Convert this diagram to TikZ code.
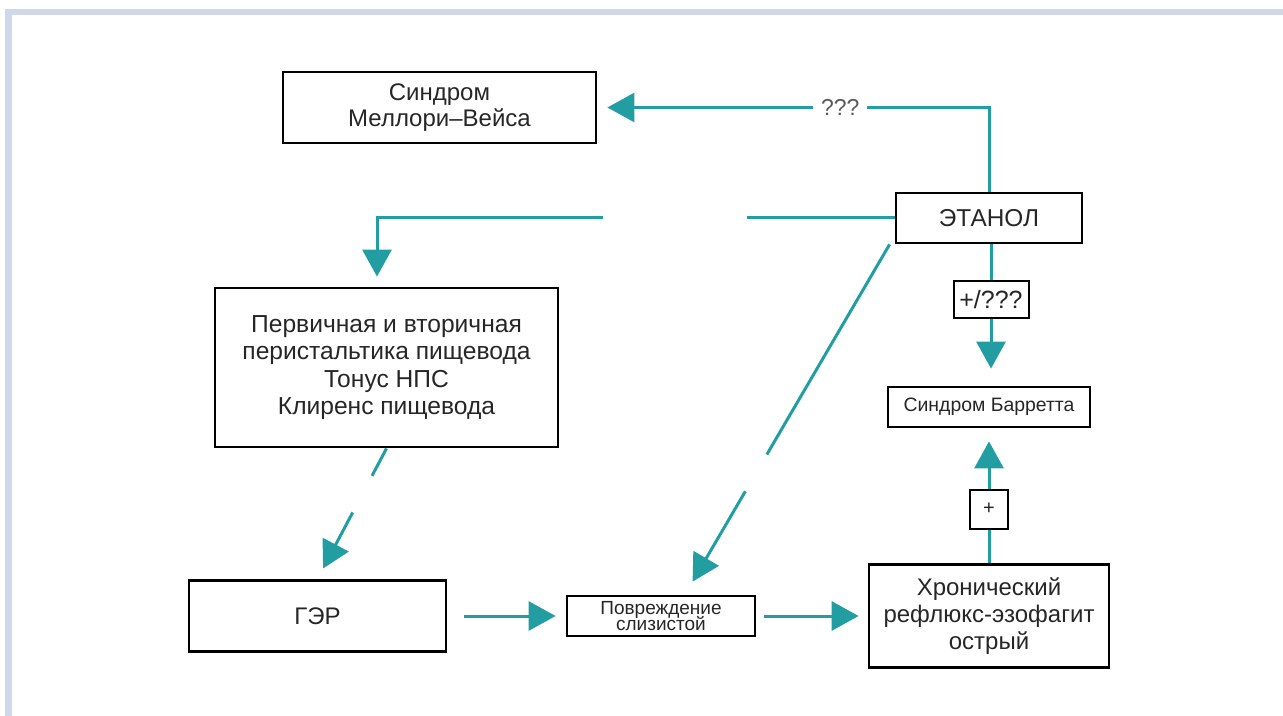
\documentclass[tikz,border=0pt]{standalone}
\usepackage{fontspec}
\setmainfont{Liberation Sans}
\usepackage{tikz}
\usetikzlibrary{arrows.meta, calc}
\definecolor{linkteal}{RGB}{34,158,163}
\definecolor{framebg}{RGB}{207,216,234}
\definecolor{labelgray}{RGB}{90,90,90}

\begin{document}
\begin{tikzpicture}[x=0.5pt, y=-0.5pt, font=\fontsize{12}{13}\selectfont,
  box/.style={draw=black, line width=1.4pt, inner sep=0pt, align=center,
              text=black!85},
  tag/.style={draw=black, line width=1pt, fill=white, inner sep=0pt,
              text=black!85},
  link/.style={draw=linkteal, line width=1.5pt},
  arr/.style={link, -{Triangle[length=13.5pt, width=14.5pt]}}]
  \useasboundingbox (0,0) rectangle (1283,716);
  % frame
  \fill[framebg] (5,9) rectangle (1283,15);
  \fill[framebg] (5,9) rectangle (12,716);

  \node[box, minimum width=156.5pt, minimum height=35.5pt]
    (mw) at (439.5,107.5) {Синдром\\Меллори–Вейса};
  \node[box, minimum width=93pt, minimum height=25pt, font=\fontsize{12.2}{13}\selectfont]
    (etanol) at (989,218) {ЭТАНОЛ};
  \node[box, minimum width=171.5pt, minimum height=79.5pt,
        font=\fontsize{12.3}{13.8}\selectfont]
    (perist) at (386.5,367.5) {Первичная и вторичная\\перистальтика пищевода\\
      Тонус НПС\\Клиренс пищевода};
  \node[box, minimum width=128.5pt, minimum height=35.5pt]
    (ger) at (317.5,616) {ГЭР};
  \node[box, minimum width=94pt, minimum height=20pt, font=\fontsize{9.5}{8}\selectfont]
    (povr) at (661,616) {Повреждение\\[-2pt]слизистой};
  \node[box, minimum width=120pt, minimum height=51.5pt, font=\fontsize{12}{13.3}\selectfont]
    (hron) at (989,616) {Хронический\\рефлюкс-эзофагит\\острый};
  \node[box, minimum width=101pt, minimum height=20pt, font=\fontsize{9.7}{11}\selectfont]
    (barrett) at (989,407) {Синдром Барретта};
  \node[tag, minimum width=37.5pt, minimum height=18.5pt, font=\fontsize{12.5}{13}\selectfont]
    (pq) at (991,299.5) {+/???};
  \node[tag, minimum width=19pt, minimum height=19.5pt, font=\fontsize{10}{12}\selectfont]
    (plus) at (989,509) {+};

  % ethanol branches
  \draw[arr, shorten >=5pt] (etanol.north) |- node[pos=0.69, fill=white, inner xsep=4pt,
    text=labelgray, font=\fontsize{11.5}{13}\selectfont] {???} (mw.east);
  \coordinate (gr) at (747,218);
  \coordinate (gl) at (603,218);
  \coordinate (pk) at ([xshift=-4.75pt]perist.north);
  \draw[link] (etanol.west) -- (gr);
  \draw[arr, shorten >=5pt] (gl) -| (pk);
  \coordinate (ds) at ([xshift=-2.5pt]etanol.south west);
  \coordinate (dt) at ([xshift=12pt]povr.north);
  \draw[link] (ds) -- ($(ds)!0.6!(dt)$);
  \draw[arr, shorten >=7.5pt] ($(ds)!0.705!(dt)$) -- (dt);
  \draw[link] ([xshift=1pt]etanol.south) -- (pq.north);
  \draw[arr, shorten >=8.5pt] (pq.south) -- ([xshift=1pt]barrett.north);

  % reflux chain
  \draw[link] (perist.south) -- ($(perist.south)!0.21!(ger.north)$);
  \draw[arr, shorten >=6pt] ($(perist.south)!0.49!(ger.north)$) -- (ger.north);
  \draw[arr, shorten <=8.5pt, shorten >=5pt] (ger.east) -- (povr.west);
  \draw[arr, shorten <=4pt, shorten >=4.5pt] (povr.east) -- (hron.west);
  \draw[link] (hron.north) -- (plus.south);
  \draw[arr, shorten >=6.5pt] (plus.north) -- (barrett.south);
\end{tikzpicture}
\end{document}
